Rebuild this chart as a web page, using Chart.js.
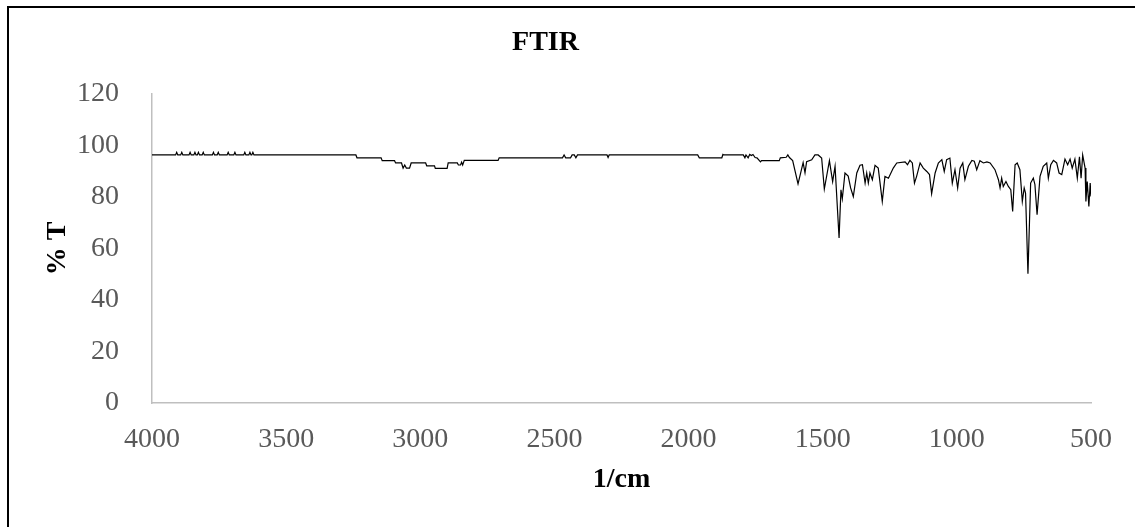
<!DOCTYPE html>
<html lang="en">
<head>
    <meta charset="UTF-8">
    <title>FTIR</title>
<script src="https://cdn.jsdelivr.net/npm/chart.js@4.4.0/dist/chart.umd.min.js"></script>
<style>
    body{margin:0; background:#fff; overflow:hidden;}
    #frame{position:absolute; left:7px; top:6px; width:1200px; height:600px; border-top:2px solid #000; border-left:2px solid #000;}
    #wrap{position:absolute; left:0; top:0; width:1135px; height:527px;}
</style>
</head>
<body>
    <div id="frame"></div>
    <div id="wrap">
        <canvas id="ftir" width="1135" height="527"></canvas>
    </div>
</body>
</html>

<script>
    // wavenumber (1/cm) and transmittance (%T)
    const wavenumbers = [
        4000,
        3912, 3908, 3904, 3893, 3889, 3885, 3862, 3858, 3854, 3844, 3840, 3836,
        3831, 3827, 3823, 3813, 3809, 3805, 3775, 3771, 3767, 3757, 3753, 3749,
        3720, 3716, 3712, 3695, 3691, 3687, 3658, 3654, 3650, 3639, 3635, 3631,
        3628, 3624, 3620,
        3240, 3236, 3146, 3142, 3096, 3092, 3070, 3064, 3058, 3052, 3040, 3034,
        2980, 2976, 2947, 2944, 2900, 2896, 2862, 2858, 2850, 2846, 2842, 2836,
        2710, 2706, 2470, 2464, 2458, 2440, 2434, 2426, 2420, 2414,
        2304, 2300, 2296, 1966, 1960, 1876, 1872, 1868,
        1796, 1790, 1786, 1778, 1772, 1766, 1760, 1752, 1745, 1736, 1732, 1728, 1716,
        1662, 1658, 1636, 1630, 1624, 1612, 1592, 1573, 1566, 1560, 1541, 1529,
        1517, 1504, 1494, 1475, 1463, 1454, 1439, 1432, 1427, 1417, 1405, 1396,
        1386, 1373, 1361, 1352, 1342, 1336, 1330, 1324, 1315, 1305, 1293, 1278,
        1268, 1255, 1237, 1224, 1193, 1184, 1175, 1166, 1158, 1150, 1137, 1125,
        1112, 1102, 1094, 1081, 1069, 1056, 1047, 1038, 1026, 1017, 1007, 997,
        988, 978, 970, 957, 944, 935, 926, 914, 901, 888, 876, 858,
        845, 839, 833, 827, 817, 808, 799, 792, 783, 775, 765, 756,
        749, 744, 735, 725, 715, 709, 701, 690, 678, 665, 659, 650,
        640, 628, 619, 609, 597, 587, 578, 570, 560, 551, 543, 537,
        531, 522, 519, 514, 508, 503, 500
    ];
    const transmittance = [
        96.2,
        96.2, 97.2, 96.2, 96.2, 97.2, 96.2, 96.2, 97.2, 96.2, 96.2, 97.2, 96.2,
        96.2, 97.2, 96.2, 96.2, 97.2, 96.2, 96.2, 97.2, 96.2, 96.2, 97.2, 96.2,
        96.2, 97.2, 96.2, 96.2, 97.2, 96.2, 96.2, 97.2, 96.2, 96.2, 97.2, 96.2,
        96.2, 97.2, 96.2,
        96.2, 95.1, 95.1, 94.0, 94.0, 93.1, 93.1, 91.1, 92.3, 91.1, 91.1, 93.1,
        93.1, 92.0, 92.0, 91.0, 91.0, 93.1, 93.1, 92.3, 92.3, 93.4, 92.3, 94.1,
        94.1, 95.1, 95.1, 96.2, 95.1, 95.1, 96.2, 96.2, 95.1, 96.2,
        96.2, 95.2, 96.2, 96.2, 95.1, 95.1, 96.4, 96.2,
        96.2, 95.1, 96.2, 95.1, 96.4, 96.0, 96.4, 95.2, 95.1, 94.0, 93.5, 94.0, 94.0,
        94.0, 95.1, 95.3, 96.2, 95.2, 94.0, 85.0, 93.2, 89.3, 93.6, 94.3, 96.2,
        96.2, 95.0, 83.0, 94.0, 85.9, 91.8, 64.0, 82.7, 79.2, 89.2, 88.0, 83.4,
        80.1, 89.2, 92.2, 92.4, 85.3, 89.2, 85.3, 89.2, 86.6, 92.2, 91.1, 78.2,
        87.9, 87.2, 91.1, 93.1, 93.5, 92.4, 94.1, 93.1, 85.3, 87.9, 93.1, 91.1,
        89.8, 88.6, 81.2, 89.2, 93.1, 94.4, 89.8, 94.4, 95.0, 85.3, 90.5, 83.4,
        91.1, 93.1, 86.6, 91.8, 94.1, 93.8, 90.5, 94.0, 93.1, 93.5, 93.1, 90.5,
        86.6, 83.4, 87.2, 84.0, 85.9, 84.0, 82.7, 74.3, 92.4, 93.1, 90.5, 78.2,
        83.4, 81.4, 50.1, 85.3, 87.2, 84.7, 73.0, 87.9, 91.8, 93.1, 87.2, 92.4,
        94.1, 93.1, 89.2, 88.6, 94.6, 92.4, 94.6, 91.1, 94.6, 87.2, 95.5, 87.2,
        96.2, 91.1, 78.2, 85.9, 76.2, 85.3, 80.1
    ];

    const xMin = 500, xMax = 4000, xStep = 500;
    const yMin = 0, yMax = 120, yStep = 20;

    const points = wavenumbers.map(function(w, i){ return {x:w, y:transmittance[i]}; });

    const serif = "'Liberation Serif', 'Times New Roman', serif";
    const tickColor = "#595959";
    const axisColor = "#bfbfbf";

    // plain numbers, no thousands separator
    function plain(v){ return String(v); }

    const ctx = document.getElementById("ftir");
    new Chart(ctx, {
        type:"line",
        data:{
            datasets:[{
                label:"FTIR",
                data:points,
                borderColor:"#000",
                borderWidth:1.2,
                pointRadius:0,
                tension:0,
                fill:false
            }]
        },
        options:{
            responsive:false,
            animation:false,
            layout:{padding:{left:0, right:44, top:0, bottom:0}},
            plugins:{
                legend:{display:false},
                tooltip:{enabled:false},
                title:{
                    display:true,
                    text:"FTIR",
                    color:"#000",
                    font:{family:serif, size:28, weight:"bold"},
                    padding:{top:26, bottom:34}
                }
            },
            scales:{
                x:{
                    type:"linear",
                    reverse:true,
                    min:xMin, max:xMax,
                    grid:{display:false},
                    border:{display:true, color:axisColor, width:1.5},
                    ticks:{stepSize:xStep, color:tickColor, padding:12, maxRotation:0,
                           font:{family:serif, size:28}, callback:plain},
                    title:{display:true, text:"1/cm", color:"#000",
                           font:{family:serif, size:28, weight:"bold"},
                           padding:{top:0, bottom:30}},
                    afterFit:function(scale){ scale.height = 124; }
                },
                y:{
                    min:yMin, max:yMax,
                    grid:{display:false},
                    border:{display:true, color:axisColor, width:1.5},
                    ticks:{stepSize:yStep, color:tickColor, padding:25,
                           font:{family:serif, size:28}, callback:plain},
                    title:{display:true, text:"% T", color:"#000",
                           font:{family:serif, size:28, weight:"bold"},
                           padding:{top:41, bottom:0}},
                    afterFit:function(scale){ scale.width = 152; }
                }
            }
        }
    });
</script>
